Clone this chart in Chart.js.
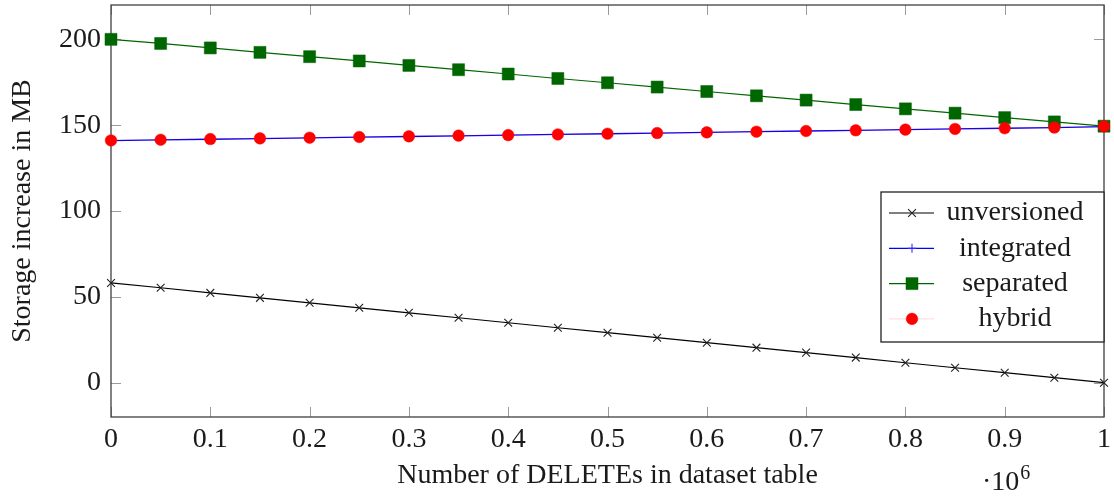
<!DOCTYPE html>
<html lang="en">
  <head>
    <meta charset="UTF-8" />
    <title>Storage increase vs DELETEs</title>
    <style>
      html, body { margin: 0; padding: 0; background: #fff; }
      canvas { display: block; }
    </style>
  </head>
  <body>
    <canvas id="myChart" width="1114" height="497"></canvas>

    <script src="https://cdn.jsdelivr.net/npm/chart.js@4.4.0/dist/chart.umd.min.js"></script>
    <script>
      // x values are in units of 10^6 DELETEs
      var deletes = [0, 0.05, 0.1, 0.15, 0.2, 0.25, 0.3, 0.35, 0.4, 0.45, 0.5,
        0.55, 0.6, 0.65, 0.7, 0.75, 0.8, 0.85, 0.9, 0.95, 1];

      var unversioned = [58.1, 55.3, 52.3, 49.4, 46.5, 43.6, 40.7, 37.8, 34.9, 32.0, 29.1,
        26.2, 23.3, 20.4, 17.5, 14.6, 11.6, 8.7, 5.8, 2.9, 0.0];
      var integrated = [141.0, 141.4, 141.8, 142.2, 142.6, 143.0, 143.4, 143.8, 144.2, 144.6, 145.0,
        145.4, 145.8, 146.2, 146.6, 147.0, 147.4, 147.8, 148.2, 148.6, 149.2];
      var separated = [200.0, 197.6, 195.0, 192.4, 189.9, 187.4, 184.8, 182.3, 179.8, 177.2, 174.7,
        172.2, 169.6, 167.1, 164.6, 162.0, 159.5, 157.0, 154.4, 151.9, 149.4];
      var hybrid = [141.1, 141.5, 141.9, 142.3, 142.7, 143.1, 143.5, 143.9, 144.2, 144.6, 145.0,
        145.4, 145.8, 146.2, 146.6, 147.0, 147.4, 147.8, 148.2, 148.6, 149.3];

      var xTicks = [0, 0.1, 0.2, 0.3, 0.4, 0.5, 0.6, 0.7, 0.8, 0.9, 1];
      var yTicks = [0, 50, 100, 150, 200];

      var FONT = "'Liberation Serif', 'Times New Roman', serif";
      var FONT_SIZE = 28;

      function points(ys) {
        return ys.map(function (y, i) {
          return { x: deletes[i], y: y };
        });
      }

      Chart.defaults.font.family = FONT;
      Chart.defaults.font.size = FONT_SIZE;
      Chart.defaults.color = "#1a1a1a";

      // frame + inward tick marks, like pgfplots
      var framePlugin = {
        id: "frame",
        beforeDatasetsDraw: function (chart) {
          var ctx = chart.ctx, a = chart.chartArea;
          var xs = chart.scales.x, ys = chart.scales.y;
          var len = 10;
          ctx.save();
          ctx.strokeStyle = "#9a9a9a";
          ctx.lineWidth = 1;
          ctx.beginPath();
          xTicks.forEach(function (v) {
            var px = Math.round(xs.getPixelForValue(v)) + 0.5;
            ctx.moveTo(px, a.bottom); ctx.lineTo(px, a.bottom - len);
            ctx.moveTo(px, a.top); ctx.lineTo(px, a.top + len);
          });
          yTicks.forEach(function (v) {
            var py = Math.round(ys.getPixelForValue(v)) + 0.5;
            ctx.moveTo(a.left, py); ctx.lineTo(a.left + len, py);
            ctx.moveTo(a.right, py); ctx.lineTo(a.right - len, py);
          });
          ctx.stroke();
          ctx.strokeStyle = "#404040";
          ctx.lineWidth = 1.3;
          ctx.strokeRect(a.left, a.top, a.right - a.left, a.bottom - a.top);
          ctx.restore();
        },
        afterDraw: function (chart) {
          var ctx = chart.ctx, a = chart.chartArea;
          // legend box
          var w = 223, h = 150;
          var left = a.right - w, top = a.top + 187;
          ctx.save();
          ctx.fillStyle = "#fff";
          ctx.fillRect(left, top, w, h);
          ctx.strokeStyle = "#222";
          ctx.lineWidth = 1.3;
          ctx.strokeRect(left, top, w, h);
          chart.data.datasets.forEach(function (ds, i) {
            var cy = top + 21 + i * 35.3;
            ctx.strokeStyle = ds.borderColor;
            ctx.lineWidth = ds.borderWidth;
            ctx.beginPath();
            ctx.moveTo(left + 8, cy);
            ctx.lineTo(left + 53, cy);
            ctx.stroke();
            ctx.fillStyle = ds.pointBackgroundColor;
            ctx.strokeStyle = ds.pointBorderColor;
            ctx.lineWidth = ds.pointBorderWidth;
            Chart.helpers.drawPoint(ctx, {
              pointStyle: ds.pointStyle,
              radius: ds.pointRadius,
              rotation: 0,
              borderWidth: ds.pointBorderWidth,
            }, left + 31, cy);
            ctx.fillStyle = "#1a1a1a";
            ctx.font = FONT_SIZE + "px " + FONT;
            ctx.textAlign = "center";
            ctx.textBaseline = "middle";
            ctx.fillText(ds.label, left + 134, cy);
          });

          // axis scale label  ·10^6
          var sx = a.right - 122, sy = a.bottom + 73;
          ctx.fillStyle = "#1a1a1a";
          ctx.textAlign = "left";
          ctx.textBaseline = "alphabetic";
          ctx.font = FONT_SIZE + "px " + FONT;
          var t = "\u00b710";
          ctx.fillText(t, sx, sy);
          var tw = ctx.measureText(t).width;
          ctx.font = "20px " + FONT;
          ctx.fillText("6", sx + tw + 1, sy - 11);
          ctx.restore();
        },
      };

      var ctx = document.getElementById("myChart").getContext("2d");
      var myChart = new Chart(ctx, {
        type: "line",
        data: {
          datasets: [
            {
              label: "unversioned",
              data: points(unversioned),
              borderColor: "#000",
              borderWidth: 1.2,
              pointStyle: "crossRot",
              pointRadius: 5.5,
              pointBackgroundColor: "#000",
              pointBorderColor: "#222",
              pointBorderWidth: 1.1,
              order: 4,
            },
            {
              label: "integrated",
              data: points(integrated),
              borderColor: "#0000ff",
              borderWidth: 1.3,
              pointStyle: "cross",
              pointRadius: 4.5,
              pointBackgroundColor: "#0000ff",
              pointBorderColor: "#3333ff",
              pointBorderWidth: 1.1,
              order: 3,
            },
            {
              label: "separated",
              data: points(separated),
              borderColor: "#006600",
              borderWidth: 1.2,
              pointStyle: "rect",
              pointRadius: 8.5,
              pointBackgroundColor: "#006600",
              pointBorderColor: "#006600",
              pointBorderWidth: 0.5,
              order: 2,
            },
            {
              label: "hybrid",
              data: points(hybrid),
              borderColor: "rgba(255,0,0,0.12)",
              borderWidth: 1.2,
              pointStyle: "circle",
              pointRadius: 5.8,
              pointBackgroundColor: "#ff0000",
              pointBorderColor: "#ff0000",
              pointBorderWidth: 0.5,
              order: 1,
            },
          ],
        },
        options: {
          responsive: false,
          animation: false,
          devicePixelRatio: 1,
          clip: false,
          layout: {
            autoPadding: false,
            padding: { top: 5, right: 10, left: 0, bottom: 0 },
          },
          plugins: {
            legend: { display: false },
            tooltip: { enabled: false },
          },
          elements: { line: { tension: 0 } },
          scales: {
            x: {
              type: "linear",
              min: 0,
              max: 1,
              grid: { display: false, drawTicks: false },
              border: { display: false },
              afterBuildTicks: function (scale) {
                scale.ticks = xTicks.map(function (v) { return { value: v }; });
              },
              afterFit: function (scale) {
                scale.height = 80;
                scale.paddingLeft = 0;
                scale.paddingRight = 0;
              },
              ticks: {
                padding: 6,
                maxRotation: 0,
                autoSkip: false,
                callback: function (v) { return String(Number(v.toFixed(1))); },
              },
              title: {
                display: true,
                text: "Number of DELETEs in dataset table",
                padding: { top: 0, bottom: 5 },
              },
            },
            y: {
              type: "linear",
              min: -20,
              max: 220,
              grid: { display: false, drawTicks: false },
              border: { display: false },
              afterBuildTicks: function (scale) {
                scale.ticks = yTicks.map(function (v) { return { value: v }; });
              },
              afterFit: function (scale) {
                scale.width = 111;
                scale.paddingTop = 0;
                scale.paddingBottom = 0;
              },
              ticks: { padding: 10 },
              title: {
                display: true,
                text: "Storage increase in MB",
                padding: { top: 6, bottom: 0 },
              },
            },
          },
        },
        plugins: [framePlugin],
      });
    </script>
  </body>
</html>
